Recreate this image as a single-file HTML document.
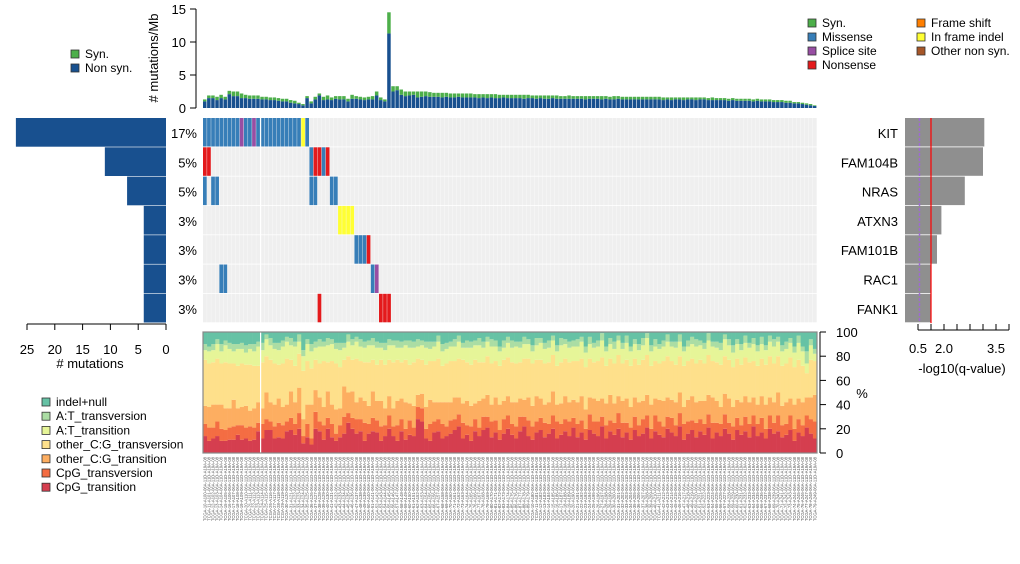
<!DOCTYPE html>
<html><head><meta charset="utf-8"><style>
body{margin:0;background:#fff}
svg{display:block;font-family:"Liberation Sans",Arial,sans-serif}
</style></head><body>
<svg id="c" width="1020" height="564" viewBox="0 0 1020 564" xmlns="http://www.w3.org/2000/svg"></svg>
<script>
const genes=["KIT","FAM104B","NRAS","ATXN3","FAM101B","RAC1","FANK1"];
const genePct=["17%","5%","5%","3%","3%","3%","3%"];
const geneCounts=[27,11,7,4,4,4,4];
const qvals=[3.05,3.0,2.3,1.4,1.23,1.0,1.0];
const qTicks=[0.5,1.0,1.5,2.0,2.5,3.0,3.5,4.0];
const qTickLabels=["0.5","","2.0","","","","3.5",""];
const leftTicks=[25,20,15,10,5,0];
const topTicks=[0,5,10,15];
const pctTicks=[0,20,40,60,80,100];
const nonsyn=[1.0,1.5,1.5,1.2,1.5,1.3,2.1,1.8,1.8,1.5,1.5,1.4,1.4,1.4,1.3,1.3,1.2,1.2,1.1,1.0,1.0,0.8,0.7,0.6,0.4,1.5,0.7,1.3,1.9,1.2,1.3,1.2,1.4,1.3,1.3,1.0,1.4,1.4,1.3,1.2,1.3,1.3,1.9,1.2,1.0,11.3,
2.5,2.7,2.0,1.8,1.9,2.0,1.6,1.7,1.8,1.7,1.7,1.7,1.6,1.7,1.6,1.6,1.7,1.6,1.6,1.6,1.6,1.5,1.6,1.5,1.6,1.5,1.5,1.6,1.5,1.5,1.5,1.5,1.4,1.5,1.5,1.4,1.5,1.4,1.4,1.5,1.4,1.4,1.4,1.4,1.4,1.4,1.4,1.3,1.4,1.4,1.4,1.3,1.4,1.3,1.3,1.4,1.3,1.3,1.3,1.3,1.3,1.3,1.3,1.3,1.3,1.3,1.2,1.3,1.2,1.3,1.3,1.2,1.3,1.3,1.2,1.3,1.3,1.2,1.2,1.2,1.2,1.2,1.1,1.2,1.1,1.1,1.1,1.1,1.0,1.1,1.0,1.0,1.0,0.9,0.9,0.9,0.8,0.8,0.7,0.7,0.6,0.5,0.4,0.3];
const syn=[0.3,0.4,0.4,0.5,0.5,0.4,0.5,0.7,0.7,0.7,0.5,0.5,0.5,0.5,0.4,0.4,0.4,0.4,0.4,0.4,0.4,0.4,0.4,0.2,0.2,0.3,0.3,0.4,0.3,0.5,0.6,0.4,0.4,0.5,0.5,0.4,0.6,0.4,0.4,0.4,0.4,0.5,0.6,0.4,0.3,3.2,
0.8,0.6,0.8,0.7,0.6,0.5,0.9,0.8,0.7,0.7,0.6,0.6,0.7,0.6,0.6,0.6,0.5,0.6,0.6,0.6,0.5,0.6,0.5,0.6,0.5,0.6,0.5,0.4,0.5,0.5,0.5,0.5,0.6,0.5,0.4,0.5,0.4,0.5,0.5,0.4,0.5,0.4,0.4,0.5,0.4,0.4,0.4,0.5,0.4,0.4,0.4,0.5,0.4,0.4,0.5,0.4,0.4,0.4,0.4,0.4,0.4,0.4,0.4,0.4,0.4,0.4,0.4,0.3,0.4,0.3,0.3,0.4,0.3,0.3,0.4,0.3,0.3,0.3,0.4,0.3,0.3,0.3,0.3,0.3,0.3,0.3,0.3,0.3,0.3,0.3,0.3,0.3,0.3,0.3,0.3,0.3,0.3,0.3,0.2,0.2,0.2,0.2,0.2,0.1];
const mutations=[];
const kitCols=[0,1,2,3,4,5,6,7,8,9,10,11,12,13,14,15,16,17,18,19,20,21,22,23,24,25];
const kitTypes=["M","M","M","M","M","M","M","M","M","S","M","M","S","M","M","M","M","M","M","M","M","M","M","M","I","M"];
const otherMuts=[[1,0,"N"],[1,1,"N"],[1,26,"M"],[1,27,"N"],[1,28,"N"],[1,29,"M"],[1,30,"N"],
[2,0,"M"],[2,2,"M"],[2,3,"M"],[2,26,"M"],[2,27,"M"],[2,31,"M"],[2,32,"M"],
[3,33,"I"],[3,34,"I"],[3,35,"I"],[3,36,"I"],
[4,37,"M"],[4,38,"M"],[4,39,"M"],[4,40,"N"],
[5,4,"M"],[5,5,"M"],[5,41,"M"],[5,42,"S"],
[6,28,"N"],[6,43,"N"],[6,44,"N"],[6,45,"N"]];
const stackCats=["CpG_transition","CpG_transversion","other_C:G_transition","other_C:G_transversion","A:T_transition","A:T_transversion","indel+null"];
const ct=[14,10,12,14,10,10,11,11,15,11,12,10,11,18,12,19,19,12,13,12,18,19,15,20,8,13,7,20,18,11,20,13,10,13,16,25,20,16,18,10,16,18,17,10,14,20,14,10,18,11,15,14,28,26,12,10,17,18,12,14,16,19,22,12,15,10,18,14,19,21,13,17,11,16,20,15,12,18,22,14,11,17,19,13,16,20,12,15,18,14,21,13,17,11,19,16,14,22,12,18,15,20,13,17,11,19,14,16,21,12,18,15,13,20,17,14,22,11,16,19,13,18,15,21,12,17,14,20,16,11,19,15,18,13,22,14,17,12,20,16,18,13,15,19,10,17,14,21,16,12];
const ctv=[10,11,9,12,10,9,10,11,8,12,9,12,10,7,12,9,7,10,12,11,8,10,9,13,6,11,5,14,8,12,9,11,6,10,14,8,9,12,10,15,8,11,10,12,9,11,8,13,10,9,12,7,10,11,8,14,9,10,12,8,11,9,10,13,8,12,10,7,11,9,13,10,8,12,11,9,10,12,8,13,11,9,10,12,8,11,14,9,10,12,8,11,10,9,13,10,12,8,11,9,10,13,12,8,10,11,9,12,10,8,13,11,9,10,12,9,11,13,10,8,12,10,9,11,13,8,10,12,9,11,10,8,12,11,9,10,12,8,11,9,13,10,9,12,10,11,9,10,12,14];
const ocgTi=[15,17,19,14,20,18,16,22,14,15,18,13,16,17,13,22,16,18,20,15,14,22,18,21,14,16,28,18,20,15,22,16,20,14,25,17,22,14,18,18,15,22,16,21,14,16,15,20,17,22,14,18,10,12,18,20,16,14,18,20,15,18,14,16,20,17,13,22,15,18,14,19,21,15,16,18,20,15,14,19,17,21,16,15,18,20,14,17,19,16,15,18,20,16,14,19,17,15,18,21,16,14,18,20,17,16,19,15,17,20,14,18,21,16,15,19,17,14,18,20,17,15,19,16,21,18,14,17,20,16,15,19,17,18,15,16,18,20,15,17,19,16,18,14,20,17,19,15,18,22];
const ocgTv=[38,36,35,38,34,38,37,30,35,36,34,38,35,30,38,30,35,34,28,36,38,26,30,28,40,36,30,25,28,38,24,36,38,34,22,30,26,36,30,32,36,26,30,34,36,30,38,34,30,35,32,36,30,28,35,32,34,36,30,32,34,30,32,36,32,34,36,32,30,32,34,30,32,34,32,33,32,30,34,32,35,30,32,34,33,30,32,34,31,33,32,34,31,35,32,30,33,34,31,30,33,34,31,32,34,32,31,34,33,32,31,30,33,34,32,31,30,34,32,31,32,34,31,33,30,32,35,31,32,33,34,31,32,33,30,32,31,33,34,32,30,33,32,34,31,32,30,20,31,28];
const atTi=[8,10,10,12,10,14,12,10,14,12,10,13,12,16,10,14,12,12,12,14,14,12,16,10,12,14,14,10,14,12,14,14,12,14,10,12,12,14,12,12,14,12,14,10,12,12,14,10,12,12,14,12,10,12,14,10,12,14,12,12,12,12,14,10,12,14,12,14,12,12,14,12,12,10,12,12,14,12,12,12,10,12,14,12,12,12,12,14,12,12,12,12,14,12,12,12,12,14,12,12,12,12,12,14,12,12,12,12,14,12,12,12,12,12,12,14,12,12,12,12,14,12,12,12,12,12,12,14,12,12,12,12,12,12,14,12,12,12,12,14,12,12,12,12,12,14,12,8,12,6];
const atTv=[5,4,5,4,6,4,5,6,4,5,6,4,6,4,6,4,6,5,6,5,4,6,4,6,5,4,6,5,6,4,6,4,5,6,4,6,5,4,6,5,4,6,5,4,6,5,4,6,5,4,6,5,6,4,5,6,4,5,6,5,4,6,5,4,6,5,4,6,5,4,6,5,4,6,5,6,4,5,6,4,5,6,4,5,6,4,5,6,4,5,5,6,4,5,6,4,5,6,4,5,6,4,5,6,4,4,5,6,4,5,6,4,5,6,4,5,6,4,5,6,6,4,5,6,4,5,6,4,5,6,4,5,6,4,5,5,6,4,5,6,4,5,6,4,5,6,4,10,5,4];

const NS="http://www.w3.org/2000/svg";
const svg=document.getElementById('c');
function mk(tag,attrs,parent){const e=document.createElementNS(NS,tag);for(const k in attrs)e.setAttribute(k,attrs[k]);(parent||svg).appendChild(e);return e;}
function txt(x,y,s,size,anchor,parent,extra){const t=mk('text',Object.assign({x:x,y:y,'font-size':size,'text-anchor':anchor||'start',fill:'#000'},extra||{}),parent);t.textContent=s;return t;}

const N=nonsyn.length;
const X0=203,X1=817,cw=(X1-X0)/N;
const sx=i=>X0+i*cw;
const colors={M:"#377eb8",N:"#e41a1c",S:"#984ea3",I:"#ffff33"};

// top TMB
const gTop=mk('g',{});


const ty=v=>108-v*6.6;
mk('line',{x1:196,y1:ty(0),x2:196,y2:ty(15),stroke:'#000','stroke-width':1},gTop);
topTicks.forEach(v=>{mk('line',{x1:190,y1:ty(v),x2:196,y2:ty(v),stroke:'#000'},gTop);txt(186,ty(v)+5,String(v),13,'end',gTop);});
const yl=txt(158,58,"# mutations/Mb",13,'middle',gTop,{transform:'rotate(-90 158 58)'});


for(let i=0;i<N;i++){
  const a=mk('rect',{x:sx(i),y:ty(nonsyn[i]),width:cw-0.6,height:nonsyn[i]*6.6,fill:'#18508f'},gTop);
  
  
  const b=mk('rect',{x:sx(i),y:ty(nonsyn[i]+syn[i]),width:cw-0.6,height:syn[i]*6.6,fill:'#4daf4a'},gTop);
  
  
}

// matrix
const MT=118,rh=29.3;
const gM=mk('g',{});


for(let r=0;r<genes.length;r++){
  for(let i=0;i<N;i++){
    mk('rect',{x:sx(i),y:MT+r*rh,width:cw-0.3,height:rh-0.8,fill:'#efefef'},gM);
  }
}
kitCols.forEach((c,k)=>mutations.push([0,c,kitTypes[k]]));
otherMuts.forEach(m=>mutations.push(m));
mutations.forEach(m=>{
  const e=mk('rect',{x:sx(m[1]),y:MT+m[0]*rh,width:cw-0.4,height:rh-0.8,fill:colors[m[2]]},gM);
  
  
});
mk('line',{x1:sx(14)+0.3,y1:MT,x2:sx(14)+0.3,y2:MT+7*rh,stroke:'#fff','stroke-width':1.2},gM);

// left counts
const gL=mk('g',{});


const lx=v=>166-v*5.56;
geneCounts.forEach((c,r)=>{
  const e=mk('rect',{x:lx(c),y:MT+r*rh,width:c*5.56,height:rh-0.6,fill:'#18508f'},gL);
  
  
});
mk('line',{x1:lx(25),y1:324,x2:lx(0),y2:324,stroke:'#000'},gL);
leftTicks.forEach(v=>{mk('line',{x1:lx(v),y1:324,x2:lx(v),y2:330,stroke:'#000'},gL);txt(lx(v),354,String(v),13,'middle',gL);});
txt(90,368,"# mutations",13,'middle',gL);

// right q-values
const gR=mk('g',{});


const qx=v=>918+(v-0.5)*26;
qvals.forEach((q,r)=>{
  const e=mk('rect',{x:qx(0),y:MT+r*rh,width:qx(q)-qx(0),height:rh-0.8,fill:'#8f8f8f'},gR);
  
  
});
mk('line',{x1:919.5,y1:MT,x2:919.5,y2:MT+7*rh,stroke:'#9e6bd0','stroke-width':1.5,'stroke-dasharray':'3,2'},gR);
mk('line',{x1:qx(1.0),y1:MT,x2:qx(1.0),y2:MT+7*rh,stroke:'#ff0000','stroke-width':1.2},gR);
mk('line',{x1:qx(0.5),y1:330,x2:qx(4.0),y2:330,stroke:'#000'},gR);
qTicks.forEach((v,k)=>{mk('line',{x1:qx(v),y1:324,x2:qx(v),y2:330,stroke:'#000'},gR);if(qTickLabels[k])txt(qx(v),353,qTickLabels[k],13,'middle',gR);});
txt(962,373,"-log10(q-value)",13,'middle',gR);

genes.forEach((g,r)=>{
  const p=txt(197,MT+r*rh+20,genePct[r],13,'end');
  
  
  const n=txt(898,MT+r*rh+20,g,13,'end');
  
  
});

// bottom spectrum
const gS=mk('g',{});


const SB=453,SH=121;
const py=v=>SB-v*SH/100;
const stackCols=["#d53e4f","#f46d43","#fdae61","#fee08b","#e6f598","#abdda4","#66c2a5"];
for(let i=0;i<N;i++){
  const vals=[ct[i],ctv[i],ocgTi[i],ocgTv[i],atTi[i],atTv[i]];
  let s=vals.reduce((a,b)=>a+b,0);vals.push(Math.max(0,100-s));
  let acc=0;
  vals.forEach((v,k)=>{
    const e=mk('rect',{x:sx(i),y:py(acc+v),width:cw+0.3,height:v*SH/100,fill:stackCols[k]},gS);
    
    
    acc+=v;
  });
}
mk('line',{x1:sx(14)+0.3,y1:332,x2:sx(14)+0.3,y2:453,stroke:'#fff','stroke-width':1.2},gS);
mk('rect',{x:X0,y:332,width:X1-X0,height:SH,fill:'none',stroke:'#888','stroke-width':1.2},gS);
mk('line',{x1:820,y1:332,x2:820,y2:453,stroke:'#000'},gS);
pctTicks.forEach(v=>{mk('line',{x1:820,y1:py(v),x2:826,y2:py(v),stroke:'#000'},gS);txt(836,py(v)+5,String(v),13,'start',gS);});
txt(862,398,"%",13,'middle',gS);
for(let i=0;i<N;i++){
  const x=sx(i)+cw/2+1.3;
  const t=txt(x,457,"TCGA-"+(10+i%80)+"-A"+(100+i)+"-06A-11D-A19A-08",4.2,'end',gS,{fill:'#555',transform:'rotate(-90 '+x+' 457)'});
  
  
}

function legend(items,x,y,dy,name){
  const g=mk('g',{});
  
  
  items.forEach((it,k)=>{
    mk('rect',{x:x,y:y+k*dy-8,width:8,height:8,fill:it[1],stroke:'#333','stroke-width':0.8},g);
    txt(x+14,y+k*dy,it[0],12,'start',g);
  });
}
legend([["Syn.","#4daf4a"],["Non syn.","#18508f"]],71,58,14,'tmb-legend');
legend([["Syn.","#4daf4a"],["Missense","#377eb8"],["Splice site","#984ea3"],["Nonsense","#e41a1c"]],808,27,14,'variant-legend-1');
legend([["Frame shift","#ff7f00"],["In frame indel","#ffff33"],["Other non syn.","#a65628"]],917,27,14,'variant-legend-2');
legend([["indel+null","#66c2a5"],["A:T_transversion","#abdda4"],["A:T_transition","#e6f598"],["other_C:G_transversion","#fee08b"],["other_C:G_transition","#fdae61"],["CpG_transversion","#f46d43"],["CpG_transition","#d53e4f"]],42,406,14.2,'spectrum-legend');
</script>
</body></html>
